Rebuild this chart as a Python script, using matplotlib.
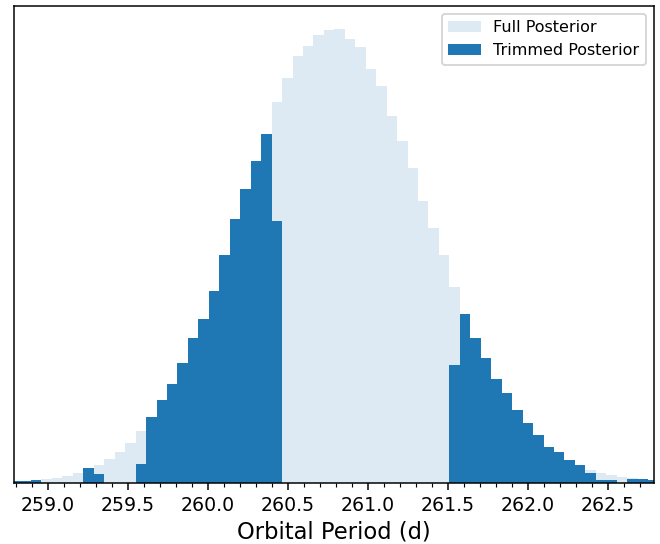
import numpy as np
import matplotlib
matplotlib.use("Agg")
import matplotlib.pyplot as plt
from matplotlib.ticker import MultipleLocator, FormatStrFormatter

# Histogram bins (orbital period, days)
bin_start = 258.763
bin_width = 0.065375

# Bin heights of the full posterior
full_counts = [
    1, 2, 2, 4, 5, 7, 10, 13, 18, 24,
    31, 40, 52, 60, 74, 91, 111, 132, 158, 187,
    214, 247, 276, 309, 337, 381, 405, 427, 437, 448,
    453, 454, 444, 436, 414, 397, 367, 342, 315, 282,
    255, 228, 196, 164, 141, 120, 100, 82, 67, 53,
    42, 32, 26, 20, 16, 13, 10, 8, 6, 5,
    3, 2,
]

# Bin heights of the trimmed posterior
trimmed_counts = [
    2, 2, 3, 0, 0, 0, 0, 15, 9, 0,
    0, 0, 19, 66, 83, 99, 120, 145, 164, 192,
    228, 264, 294, 322, 349, 262, 0, 0, 0, 0,
    0, 0, 0, 0, 0, 0, 0, 0, 0, 0,
    0, 0, 118, 169, 145, 125, 104, 90, 73, 60,
    48, 36, 31, 23, 18, 10, 3, 3, 0, 4,
    4, 3,
]

x_limits = (258.7875, 262.7875)

n_bins = len(full_counts)
edges = bin_start + bin_width * np.arange(n_bins + 1)

fig = plt.figure(figsize=(660 / 136, 544 / 136), dpi=136)
ax = fig.add_axes([14 / 660, 61 / 544, 640 / 660, 477 / 544])

# Filled step outlines so neighbouring bins join without seams
ax.stairs(full_counts, edges, fill=True, color="#1f77b4", alpha=0.15,
          linewidth=0, label="Full Posterior")
ax.stairs(trimmed_counts, edges, fill=True, color="#1f77b4",
          linewidth=0, label="Trimmed Posterior")

ax.set_xlim(*x_limits)
ax.set_ylim(0, max(full_counts) * 1.05)
ax.set_yticks([])
ax.xaxis.set_major_locator(MultipleLocator(0.5))
ax.xaxis.set_minor_locator(MultipleLocator(0.1))
ax.xaxis.set_major_formatter(FormatStrFormatter("%.1f"))
ax.set_xlabel("Orbital Period (d)", fontsize=12, labelpad=3)
ax.legend(loc="upper right", fontsize=8.5)

fig.savefig("out.png", dpi=136)
